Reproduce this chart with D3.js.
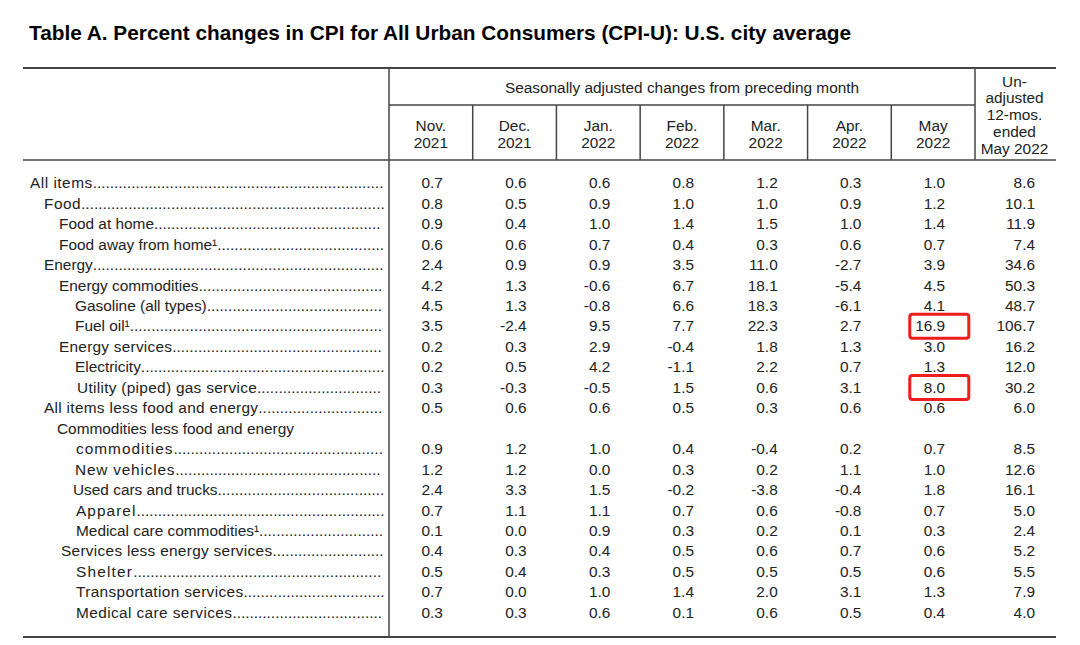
<!DOCTYPE html>
<html><head><meta charset="utf-8">
<script src="https://cdn.jsdelivr.net/npm/d3@7"></script>
<style>
body{margin:0;background:#fff;}
text{font-family:"Liberation Sans",Arial,sans-serif;}
</style></head>
<body><svg id="c" width="1080" height="645"></svg>
<script>
// ---------- DATA ----------
const title = "Table A. Percent changes in CPI for All Urban Consumers (CPI-U): U.S. city average";
const groupHeader = "Seasonally adjusted changes from preceding month";
const monthLabels = [["Nov.","2021"],["Dec.","2021"],["Jan.","2022"],["Feb.","2022"],["Mar.","2022"],["Apr.","2022"],["May","2022"]];
const yoyHeader = ["Un-","adjusted","12-mos.","ended","May 2022"];
const categories = [
  ["All items"],["Food"],["Food at home"],["Food away from home\u00B9"],["Energy"],
  ["Energy commodities"],["Gasoline (all types)"],["Fuel oil\u00B9"],["Energy services"],
  ["Electricity"],["Utility (piped) gas service"],["All items less food and energy"],
  ["Commodities less food and energy","commodities"],["New vehicles"],["Used cars and trucks"],
  ["Apparel"],["Medical care commodities\u00B9"],["Services less energy services"],
  ["Shelter"],["Transportation services"],["Medical care services"]
];
const nov21 = [0.7,0.8,0.9,0.6,2.4,4.2,4.5,3.5,0.2,0.2,0.3,0.5,0.9,1.2,2.4,0.7,0.1,0.4,0.5,0.7,0.3];
const dec21 = [0.6,0.5,0.4,0.6,0.9,1.3,1.3,-2.4,0.3,0.5,-0.3,0.6,1.2,1.2,3.3,1.1,0.0,0.3,0.4,0.0,0.3];
const jan22 = [0.6,0.9,1.0,0.7,0.9,-0.6,-0.8,9.5,2.9,4.2,-0.5,0.6,1.0,0.0,1.5,1.1,0.9,0.4,0.3,1.0,0.6];
const feb22 = [0.8,1.0,1.4,0.4,3.5,6.7,6.6,7.7,-0.4,-1.1,1.5,0.5,0.4,0.3,-0.2,0.7,0.3,0.5,0.5,1.4,0.1];
const mar22 = [1.2,1.0,1.5,0.3,11.0,18.1,18.3,22.3,1.8,2.2,0.6,0.3,-0.4,0.2,-3.8,0.6,0.2,0.6,0.5,2.0,0.6];
const apr22 = [0.3,0.9,1.0,0.6,-2.7,-5.4,-6.1,2.7,1.3,0.7,3.1,0.6,0.2,1.1,-0.4,-0.8,0.1,0.7,0.5,3.1,0.5];
const may22 = [1.0,1.2,1.4,0.7,3.9,4.5,4.1,16.9,3.0,1.3,8.0,0.6,0.7,1.0,1.8,0.7,0.3,0.6,0.6,1.3,0.4];
const yoy12 = [8.6,10.1,11.9,7.4,34.6,50.3,48.7,106.7,16.2,12.0,30.2,6.0,8.5,12.6,16.1,5.0,2.4,5.2,5.5,7.9,4.0];
const highlighted = [["Fuel oil\u00B9",6],["Utility (piped) gas service",6]]; // [category, month column]

// ---------- LAYOUT ----------
const monthly = [nov21,dec21,jan22,feb22,mar22,apr22,may22];
const indent = [30,44,59,59,44,59,75,75,59,75,77,44,57,75,73,76,76,61,76,76,76];
const contIndent = 76;
const spaced = {"All items":0.5,"Food":0.5,"Energy services":0.25,"Utility (piped) gas service":0.3,
  "All items less food and energy":0.3,"New vehicles":0.8,"Apparel":1.05,"Shelter":1.2,"commodities":1.0,
  "Services less energy services":0.3,"Transportation services":0.35,"Medical care services":0.4};

const svg = d3.select("#c");
const fs = 15.4, ink = "#222", rule = "#444";
const left = 23, right = 1056, stub = 389, yoyX = 975;
const topY = 68, subY = 105, headBot = 160, botY = 637;

const xCol = d3.scaleBand().domain(d3.range(7)).range([stub, yoyX]);
const lineIdx = []; let li = 0;
categories.forEach(c => { lineIdx.push(li + c.length - 1); li += c.length; });
const y = d3.scaleLinear().domain([0, 21]).range([183, 612.5]);
const base = 5.3;

svg.append("text").attr("x", 29).attr("y", 40).attr("font-size", 20.8).attr("font-weight", "bold")
  .attr("fill", "#000").text(title);

const L = (x1,y1,x2,y2,w) => svg.append("line").attr("x1",x1).attr("y1",y1).attr("x2",x2).attr("y2",y2)
  .attr("stroke", rule).attr("stroke-width", w);
L(left, topY, right, topY, 2);
L(left, headBot, right, headBot, 1.5);
L(left, botY, right, botY, 2);
L(stub, topY, stub, botY, 1.5);
L(yoyX, topY, yoyX, headBot, 1.5);
L(stub, subY, yoyX, subY, 1.5);
d3.range(1,7).forEach(i => L(xCol(i), subY, xCol(i), headBot, 1.5));

svg.append("text").attr("x", (stub + yoyX) / 2).attr("y", 92.5).attr("text-anchor", "middle")
  .attr("font-size", fs).attr("fill", ink).text(groupHeader);
monthLabels.forEach((m, i) => {
  m.forEach((t, k) => svg.append("text").attr("x", xCol(i) + xCol.bandwidth() / 2).attr("y", 131 + k * 17)
    .attr("text-anchor", "middle").attr("font-size", fs).attr("fill", ink).text(t));
});
yoyHeader.forEach((t, k) => svg.append("text").attr("x", (yoyX + right) / 2 - 1).attr("y", 86.5 + k * 16.8)
  .attr("text-anchor", "middle").attr("font-size", fs).attr("fill", ink).text(t));

const dotEnd = 385;
categories.forEach((c, r) => {
  c.forEach((t, k) => {
    const lx = k === 0 ? indent[r] : contIndent;
    const ly = y(lineIdx[r] - (c.length - 1 - k)) + base;
    const tx = svg.append("text").attr("x", lx).attr("y", ly).attr("font-size", fs).attr("fill", ink)
      .attr("letter-spacing", spaced[t] || 0).text(t);
    if (k === c.length - 1) {
      const end = lx + tx.node().getComputedTextLength();
      const n = Math.floor((dotEnd - end) / 4.28);
      if (n > 0) svg.append("text").attr("x", end).attr("y", ly)
        .attr("font-size", fs).attr("fill", ink).text(".".repeat(n));
    }
  });
});

const fmt = v => d3.format(".1f")(v).replace("\u2212", "-");
monthly.forEach((series, i) => {
  svg.append("g").selectAll("text").data(series).join("text")
    .attr("x", xCol(i) + xCol.bandwidth() / 2 + 12).attr("y", (d, r) => y(lineIdx[r]) + base)
    .attr("text-anchor", "end").attr("font-size", fs).attr("fill", ink).text(d => fmt(d));
});
svg.append("g").selectAll("text").data(yoy12).join("text")
  .attr("x", 1035).attr("y", (d, r) => y(lineIdx[r]) + base)
  .attr("text-anchor", "end").attr("font-size", fs).attr("fill", ink).text(d => fmt(d));

highlighted.forEach(([cat, col]) => {
  const r = categories.findIndex(c => c[0] === cat);
  svg.append("rect").attr("x", xCol(col) + 18.5).attr("y", y(lineIdx[r]) - 12)
    .attr("width", 59).attr("height", 24).attr("rx", 2.5)
    .attr("fill", "none").attr("stroke", "#ee1c1c").attr("stroke-width", 3);
});
</script></body></html>
